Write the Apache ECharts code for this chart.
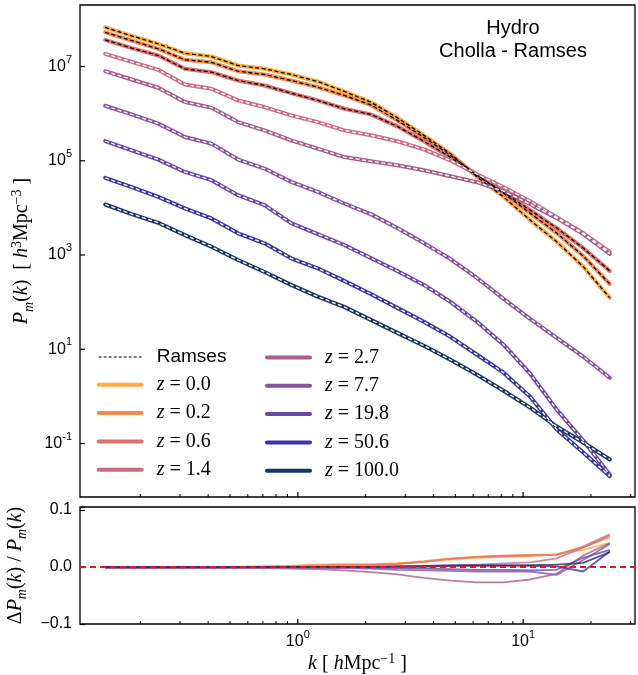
<!DOCTYPE html>
<html><head><meta charset="utf-8">
<script src="https://cdn.jsdelivr.net/npm/echarts@6/dist/echarts.min.js"></script>
<style>html,body{margin:0;padding:0;background:#fff}#c{width:638px;height:675px}</style>
</head><body><div id="c"></div>
<script>
// ---------------- data ----------------
const kValues = [0.1397, 0.1833, 0.2404, 0.3154, 0.4138, 0.5429, 0.7119, 0.9340, 1.2254, 1.607,
                 2.108, 2.765, 3.627, 4.758, 6.242, 8.187, 10.74, 14.09, 18.48, 24.24];
const redshiftLabels = ['0.0', '0.2', '0.6', '1.4', '2.7', '7.7', '19.8', '50.6', '100.0'];

const pk_z0_0  = [6.79e7,4.46e7,3.02e7,1.91e7,1.63e7,1.05e7,8.94e6,6.77e6,4.81e6,2.96e6,1.76e6,8.21e5,3.47e5,1.42e5,4.54e4,1.71e4,5.51e3,1.91e3,565,123];
const pk_z0_2  = [5.32e7,3.55e7,2.37e7,1.39e7,1.23e7,7.95e6,6.77e6,5.05e6,3.65e6,2.43e6,1.53e6,7.20e5,3.14e5,1.31e5,4.93e4,2.05e4,7.74e3,2.92e3,952,243];
const pk_z0_6  = [3.67e7,2.46e7,1.71e7,8.94e6,7.57e6,5.05e6,3.96e6,2.72e6,1.91e6,1.27e6,9.64e5,5.37e5,2.59e5,1.19e5,4.93e4,2.15e4,8.96e3,3.73e3,1.41e3,459];
const pk_z1_4  = [1.86e7,1.25e7,8.51e6,4.16e6,3.37e6,1.91e6,1.38e6,9.18e5,6.62e5,4.42e5,3.47e5,2.59e5,1.75e5,1.02e5,5.18e4,2.75e4,1.39e4,6.37e3,2.92e3,1.16e3];
const pk_z2_7  = [7.95e6,5.31e6,3.54e6,1.76e6,1.34e6,6.62e5,4.42e5,2.72e5,1.81e5,1.20e5,9.76e4,8.03e4,6.29e4,4.70e4,3.51e4,2.26e4,1.20e4,6.07e3,2.78e3,1.05e3];
const pk_z7_7  = [1.47e6,9.64e5,6.13e5,3.19e5,2.31e5,1.06e5,6.84e4,3.56e4,2.19e4,1.24e4,7.37e3,3.73e3,1.79e3,823,326,117,44.2,17.5,6.94,2.49];
const pk_z19_8 = [2.62e5,1.67e5,1.06e5,5.79e4,3.87e4,1.86e4,1.14e4,4.75e3,2.78e3,1.63e3,864,459,232,101,38.2,12.5,3.03,0.524,0.116,0.0218];
const pk_z50_6 = [4.33e4,2.75e4,1.71e4,9.73e3,5.98e3,2.88e3,1.77e3,851,523,282,149,75.5,38.2,18.4,7.65,3.18,0.988,0.198,0.0645,0.0203];
const pk_z100  = [1.18e4,7.37e3,4.83e3,2.65e3,1.50e3,784,437,232,131,79.3,42.1,22.3,11.9,5.99,2.89,1.32,0.578,0.229,0.105,0.0459];

const res_z0_0  = [0,0,0,0,0,0,0.001,0.002,0.004,0.005,0.005,0.006,0.009,0.013,0.016,0.017,0.019,0.022,0.030,0.042];
const res_z0_2  = [0,0,0,0,0,0,0.001,0.002,0.003,0.004,0.004,0.006,0.010,0.015,0.018,0.020,0.021,0.022,0.034,0.052];
const res_z0_6  = [-0.001,-0.001,-0.001,-0.001,-0.001,-0.001,0,0,0.001,0.002,0.003,0.005,0.009,0.014,0.017,0.019,0.020,0.021,0.036,0.057];
const res_z1_4  = [-0.002,-0.002,-0.002,-0.002,-0.001,-0.001,-0.001,-0.001,-0.001,-0.001,-0.001,-0.001,0,0.002,0.004,0.006,0.008,0.015,0.034,0.055];
const res_z2_7  = [-0.002,-0.002,-0.002,-0.002,-0.002,-0.002,-0.002,-0.003,-0.004,-0.006,-0.009,-0.013,-0.019,-0.024,-0.027,-0.027,-0.022,-0.012,0.020,0.042];
const res_z7_7  = [-0.001,-0.001,-0.001,-0.001,-0.001,-0.001,-0.001,-0.001,-0.002,-0.002,-0.003,-0.005,-0.006,-0.007,-0.008,-0.008,-0.008,-0.014,0.012,0.040];
const res_z19_8 = [0,0,0,0,0,0,0,0,0,0,-0.001,-0.002,-0.003,-0.004,-0.005,-0.005,-0.006,-0.005,0.016,0.030];
const res_z50_6 = [0,0,0,0,0,0,0,0,0,0,0,0.001,0.002,0.003,0.003,0.003,0.002,0.001,-0.008,0.027];
const res_z100  = [0,0,0,0,0,0,0,0,0,0,0,0.001,0.001,0.002,0.002,0.002,0.003,0.004,0.007,0.026];

const xMajorTicks = [1, 10];
const xMajorTickExp = ['0', '1'];
const xMinorTicks = [0.2,0.3,0.4,0.5,0.6,0.7,0.8,0.9,2,3,4,5,6,7,8,9,20,30];
const yMajorTicks = [0.1, 10, 1000, 1e5, 1e7];
const yMajorTickExp = ['-1', '1', '3', '5', '7'];
const tickBase = '10';
const resTicks = [-0.1, 0, 0.1];
const resTickLabels = ['\u22120.1', '0.0', '0.1'];

// ---------------- style ----------------
const XMIN = 0.108, XMAX = 31.36;
const YMIN = 0.00733, YMAX = 2.02e8;
const RMIN = -0.1, RMAX = 0.105;
const colors = ['#fcae3c','#f68a4a','#e2706a','#c96c84','#a65e8c','#8b559e','#6b47a8','#3a35a1','#163664'];
const ramsesColors = ['#000','#000','#000','#fff','#fff','#fff','#fff','#fff','#fff'];
const pkList = [pk_z0_0, pk_z0_2, pk_z0_6, pk_z1_4, pk_z2_7, pk_z7_7, pk_z19_8, pk_z50_6, pk_z100];
const resList = [res_z0_0, res_z0_2, res_z0_6, res_z1_4, res_z2_7, res_z7_7, res_z19_8, res_z50_6, res_z100];
const SANS = 'Liberation Sans', SERIF = 'Liberation Serif';
const BASE_FONT = '16px "Liberation Sans"', EXP_FONT = '11px "Liberation Sans"';
const measureCtx = document.createElement('canvas').getContext('2d');
function textW(t, font) { measureCtx.font = font; return measureCtx.measureText(t).width; }

const series = [];
pkList.forEach((arr, i) => {
  series.push({
    type: 'line', name: 'z = ' + redshiftLabels[i], xAxisIndex: 0, yAxisIndex: 0,
    data: kValues.map((k, j) => [k, arr[j]]), symbol: 'none', showSymbol: false,
    lineStyle: { color: colors[i], width: 4, join: 'round', cap: 'round' },
    itemStyle: { color: colors[i] }, z: 2, silent: true
  });
  series.push({
    type: 'line', name: 'Ramses', xAxisIndex: 0, yAxisIndex: 0,
    data: kValues.map((k, j) => [k, arr[j]]), symbol: 'none', showSymbol: false,
    lineStyle: { color: ramsesColors[i], width: 1.3, type: [4, 2.5] },
    itemStyle: { color: ramsesColors[i] }, z: 3, silent: true
  });
});
resList.forEach((arr, i) => {
  const s = {
    type: 'line', name: 'res ' + redshiftLabels[i], xAxisIndex: 1, yAxisIndex: 1,
    data: kValues.map((k, j) => [k, arr[j]]), symbol: 'none', showSymbol: false,
    lineStyle: { color: colors[i], width: 1.8, opacity: 0.8 }, z: 2, silent: true
  };
  if (i === resList.length - 1) {
    s.markLine = { silent: true, symbol: 'none', label: { show: false },
      lineStyle: { color: '#e8141e', type: [6, 4], width: 2.2, opacity: 1 },
      data: [{ yAxis: 0 }], z: 10 };
  }
  series.push(s);
});

// power-of-ten label: base "10" plus raised exponent, right edge at xr, digit centre at yc
function powLabel(xr, yc, exp) {
  const we = textW(exp, EXP_FONT);
  return [
    { type: 'text', x: xr - we, y: yc,
      style: { text: tickBase, font: BASE_FONT, fontSize: 16, fontFamily: SANS, fill: '#000', align: 'right', verticalAlign: 'middle' } },
    { type: 'text', x: xr - we, y: yc - 7,
      style: { text: exp, font: EXP_FONT, fontSize: 11, fontFamily: SANS, fill: '#000', align: 'left', verticalAlign: 'middle' } }
  ];
}

function xTickData(ymin) {
  return xMajorTicks.map((v, i) => [v, ymin, 1, i]).concat(xMinorTicks.map(v => [v, ymin, 0, -1]));
}
function xTickRender(withLabels) {
  return function (params, api) {
    const p = api.coord([api.value(0), api.value(1)]);
    const major = api.value(2) === 1;
    const len = major ? 5 : 3;
    let children = [{ type: 'line', shape: { x1: p[0], y1: p[1], x2: p[0], y2: p[1] - len },
      style: { stroke: '#000', lineWidth: major ? 1.2 : 1 } }];
    if (withLabels && major) {
      const exp = xMajorTickExp[api.value(3)];
      const total = textW(tickBase, BASE_FONT) + textW(exp, EXP_FONT);
      children = children.concat(powLabel(p[0] + total / 2, p[1] + 18, exp));
    }
    return { type: 'group', children: children };
  };
}
series.push({ type: 'custom', xAxisIndex: 0, yAxisIndex: 0, clip: false, silent: true, z: 6,
  data: xTickData(YMIN), encode: { x: 0, y: 1 }, renderItem: xTickRender(false) });
series.push({ type: 'custom', xAxisIndex: 1, yAxisIndex: 1, clip: false, silent: true, z: 6,
  data: xTickData(RMIN), encode: { x: 0, y: 1 }, renderItem: xTickRender(true) });
series.push({ type: 'custom', xAxisIndex: 0, yAxisIndex: 0, clip: false, silent: true, z: 6,
  data: yMajorTicks.map((v, i) => [XMIN, v, i]), encode: { x: 0, y: 1 },
  renderItem: function (params, api) {
    const p = api.coord([api.value(0), api.value(1)]);
    const exp = yMajorTickExp[api.value(2)];
    return { type: 'group', children: [
      { type: 'line', shape: { x1: p[0], y1: p[1], x2: p[0] + 5, y2: p[1] }, style: { stroke: '#000', lineWidth: 1.2 } }
    ].concat(powLabel(p[0] - 8, p[1], exp)) };
  } });

const nameRich = {
  i: { fontFamily: SERIF, fontStyle: 'italic', fontSize: 20, color: '#000', verticalAlign: 'bottom', lineHeight: 22, padding: [0, 0, 4, 0] },
  r: { fontFamily: SERIF, fontSize: 20, color: '#000', verticalAlign: 'bottom', lineHeight: 22, padding: [0, 0, 4, 0] },
  sub: { fontFamily: SERIF, fontStyle: 'italic', fontSize: 14, color: '#000', verticalAlign: 'bottom', lineHeight: 16, padding: [0, 0, 0, 0] },
  sup: { fontFamily: SERIF, fontSize: 14, color: '#000', verticalAlign: 'bottom', lineHeight: 16, padding: [0, 0, 12, 0] }
};

const legendRich = {
  sp: { width: 10 },
  r: { fontFamily: SANS, fontSize: 19, color: '#000', lineHeight: 20 },
  i: { fontFamily: SERIF, fontStyle: 'italic', fontSize: 20, color: '#000', lineHeight: 20 },
  n: { fontFamily: SERIF, fontSize: 20, color: '#000', lineHeight: 20 }
};
function legendFmt(name) {
  if (name === 'Ramses') return '{sp|}{r|Ramses}';
  return '{sp|}{i|z}{n| = ' + name.replace('z = ', '') + '}';
}
function legendItem(name) {
  if (name === 'Ramses') return { name: name, itemStyle: { opacity: 0 }, lineStyle: { color: '#000', width: 1.2, type: [3, 2] } };
  return { name: name, itemStyle: { opacity: 0 }, lineStyle: { width: 4 } };
}
const legendCommon = { orient: 'vertical', padding: 0, itemGap: 8.3, itemWidth: 43, itemHeight: 14,
  formatter: legendFmt, selectedMode: false, textStyle: { color: '#000', rich: legendRich } };

const hiddenAxis = { axisLine: { show: false }, axisTick: { show: false }, axisLabel: { show: false },
  splitLine: { show: false }, minorTick: { show: false }, minorSplitLine: { show: false } };

const option = {
  animation: false,
  backgroundColor: '#fff',
  textStyle: { fontFamily: SANS },
  title: { text: 'Hydro\nCholla - Ramses', left: 513, top: 17, textAlign: 'center', padding: 0,
    textStyle: { fontFamily: SANS, fontWeight: 'normal', fontSize: 20, lineHeight: 23, color: '#000' } },
  legend: [
    Object.assign({}, legendCommon, { left: 96.7, top: 347.5,
      data: ['Ramses', 'z = 0.0', 'z = 0.2', 'z = 0.6', 'z = 1.4'].map(legendItem) }),
    Object.assign({}, legendCommon, { left: 265, top: 347.5,
      data: ['z = 2.7', 'z = 7.7', 'z = 19.8', 'z = 50.6', 'z = 100.0'].map(legendItem) })
  ],
  grid: [
    { left: 80, top: 5, width: 555, height: 492, show: true, borderColor: '#000', borderWidth: 1.3,
      backgroundColor: 'transparent', containLabel: false, outerBoundsMode: 'none' },
    { left: 80, top: 507, width: 555, height: 117, show: true, borderColor: '#000', borderWidth: 1.3,
      backgroundColor: 'transparent', containLabel: false, outerBoundsMode: 'none' }
  ],
  xAxis: [
    Object.assign({ type: 'log', logBase: 10, gridIndex: 0, min: XMIN, max: XMAX }, hiddenAxis),
    Object.assign({ type: 'log', logBase: 10, gridIndex: 1, min: XMIN, max: XMAX,
      name: '{i|k}{r| [ }{i|h}{r|Mpc}{sup|\u22121}{r| ]}', nameLocation: 'middle', nameGap: 32,
      nameTextStyle: { rich: nameRich } }, hiddenAxis)
  ],
  yAxis: [
    Object.assign({ type: 'log', logBase: 10, gridIndex: 0, min: YMIN, max: YMAX,
      name: '{i|P}{sub|m}{r|(}{i|k}{r|)  [ }{i|h}{sup|3}{r|Mpc}{sup|\u22123}{r| ]}',
      nameLocation: 'middle', nameGap: 44, nameRotate: 90, nameTextStyle: { rich: nameRich } }, hiddenAxis),
    { type: 'value', gridIndex: 1, min: RMIN, max: RMAX, interval: 0.1,
      name: '{r|\u0394}{i|P}{sub|m}{r|(}{i|k}{r|) / }{i|P}{sub|m}{r|(}{i|k}{r|)}',
      nameLocation: 'middle', nameGap: 48, nameRotate: 90, nameTextStyle: { rich: nameRich },
      axisLine: { show: false }, splitLine: { show: false },
      axisTick: { show: true, inside: true, length: 5, lineStyle: { color: '#000', width: 1.2 } },
      axisLabel: { show: true, color: '#000', fontFamily: SANS, fontSize: 16, margin: 8,
        formatter: function (v) {
          for (let i = 0; i < resTicks.length; i++) if (Math.abs(v - resTicks[i]) < 1e-9) return resTickLabels[i];
          return '';
        } } }
  ],
  series: series
};
const chart = echarts.init(document.getElementById('c'), null, { renderer: 'canvas' });
chart.setOption(option);
</script></body></html>
